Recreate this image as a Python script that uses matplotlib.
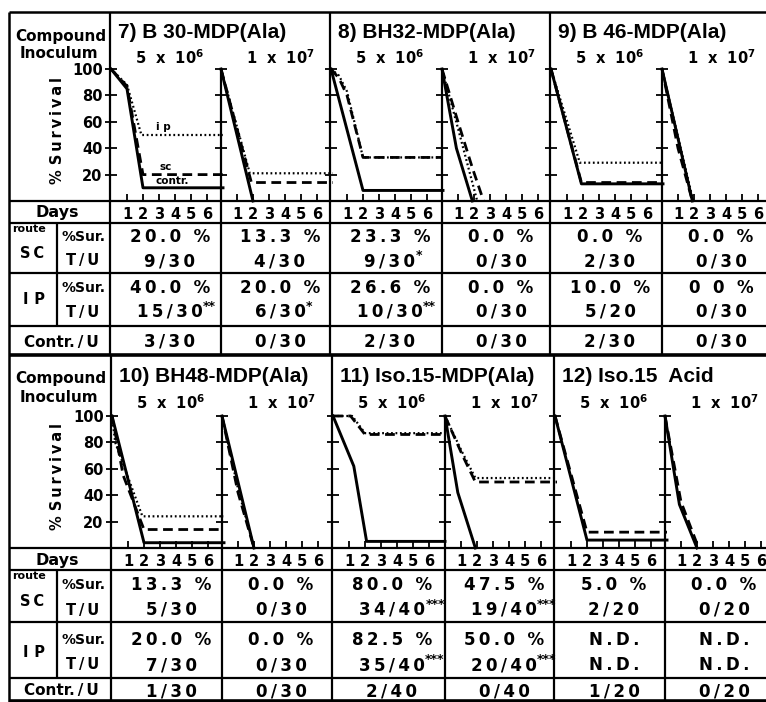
import matplotlib.pyplot as plt
from matplotlib.lines import Line2D

W, H = 766, 702

# ---- data ----
titles = ["7) B 30-MDP(Ala)", "8) BH32-MDP(Ala)", "9) B 46-MDP(Ala)",
          "10) BH48-MDP(Ala)", "11) Iso.15-MDP(Ala)", "12) Iso.15  Acid"]
inocula = [r"5  x  10$^{\mathbf{6}}$", r"1  x  10$^{\mathbf{7}}$"]
days = [1, 2, 3, 4, 5, 6]
yticks = [20, 40, 60, 80, 100]

sc_pct = ["20.0 %", "13.3 %", "23.3 %", "0.0 %", "0.0 %", "0.0 %",
          "13.3 %", "0.0 %", "80.0 %", "47.5 %", "5.0 %", "0.0 %"]
sc_tu = ["9/30", "4/30", "9/30*", "0/30", "2/30", "0/30",
         "5/30", "0/30", "34/40***", "19/40***", "2/20", "0/20"]
ip_pct = ["40.0 %", "20.0 %", "26.6 %", "0.0 %", "10.0 %", "0 0 %",
          "20.0 %", "0.0 %", "82.5 %", "50.0 %", "N.D.", "N.D."]
ip_tu = ["15/30**", "6/30*", "10/30**", "0/30", "5/20", "0/30",
         "7/30", "0/30", "35/40***", "20/40***", "N.D.", "N.D."]
contr_u = ["3/30", "0/30", "2/30", "0/30", "2/30", "0/30",
           "1/30", "0/30", "2/40", "0/40", "1/20", "0/20"]

# survival curves, one entry per small plot (7 low, 7 high, 8 low, ...)
contr_x = [[0, 1, 2, 7], [0, 2], [0, 2, 7], [0, 0.9, 1.9], [0, 1.9, 7], [0, 1.9],
           [0, 2, 7], [0, 2], [0, 1.3, 2.1, 7], [0, 0.8, 1.9], [0, 2, 7], [0, 0.9, 2]]
contr_y = [[100, 85, 10, 10], [100, 0], [100, 8, 8], [100, 40, 0], [100, 13, 13], [100, 0],
           [100, 4, 4], [100, 0], [100, 62, 5, 5], [100, 42, 0], [100, 6, 6], [100, 33, 0]]
sc_x = [[0, 1, 2, 7], [0, 1.9, 7], [0, 0.5, 1, 2, 7], [0, 1, 1.9, 2.6], [0, 1.9, 7], [0, 1, 1.9],
        [0, 0.7, 2, 7], [0, 1, 2], [0, 1.1, 2, 7], [0, 1.1, 1.9, 7], [0, 2, 7], [0, 1, 2.1]]
sc_y = [[100, 87, 20, 20], [100, 14, 14], [100, 93, 80, 33, 33], [100, 60, 25, 0], [100, 14, 14], [100, 40, 0],
        [100, 55, 14, 14], [100, 42, 0], [100, 100, 86, 86], [100, 70, 50, 50], [100, 12, 12], [100, 35, 0]]
ip_x = [[0, 1, 1.9, 7], [0, 1.8, 7], [0, 0.5, 1, 2, 7], [0, 1, 2.2], [0, 1.8, 7], [0, 1.95],
        [0, 0.2, 1.9, 7], [0, 1, 2], [0, 1.2, 2, 7], [0, 1.1, 1.9, 7], [], []]
ip_y = [[100, 88, 50, 50], [100, 21, 21], [100, 95, 83, 33, 33], [100, 55, 0], [100, 29, 29], [100, 0],
        [100, 80, 24, 24], [100, 45, 0], [100, 100, 87, 87], [100, 72, 53, 53], [], []]

# ---- layout (pixels) ----
sections = [
    dict(top=12, title=33, inoc=58, y100=69, y0=201,
         rows=[212, 237, 261, 288, 312, 342], hl=[201, 223, 273, 326, 355], bottom=355,
         lefts=[111, 221, 331, 442, 551, 662]),
    dict(top=355, title=377, inoc=403, y100=416, y0=548,
         rows=[560, 585, 610, 640, 665, 691], hl=[548, 570, 622, 678, 701], bottom=702,
         lefts=[112, 222, 333, 445, 555, 665]),
]

B = dict(fontweight="bold", family="DejaVu Sans")

fig = plt.figure(figsize=(W / 100, H / 100), dpi=100)
bg = fig.add_axes([0, 0, 1, 1])
bg.set_xlim(0, W)
bg.set_ylim(H, 0)
bg.axis("off")


def hline(y, x0, x1, lw=1.6):
    bg.add_line(Line2D([x0, x1], [y, y], color="black", lw=lw, solid_capstyle="butt"))


def vline(x, y0, y1, lw=1.6):
    bg.add_line(Line2D([x, x], [y0, y1], color="black", lw=lw, solid_capstyle="butt"))


def txt(x, y, s, size=11, ha="center", **kw):
    opts = dict(B)
    opts.update(kw)
    return bg.text(x, y, s, fontsize=size, ha=ha, va="center", **opts)


def cell(x, y, s):
    core = s.rstrip("*")
    stars = s[len(core):]
    t = txt(x, y, "\u2009".join(core), size=12)
    if stars:
        bg.annotate(stars, xy=(1, 1), xycoords=t, xytext=(0.2, 2.5),
                    textcoords="offset points", ha="left", va="top",
                    fontsize=9, fontweight="bold")


# outer frame
hline(12, 9, 766, lw=1.8)
vline(9, 12, 702, lw=1.8)

for si, sec in enumerate(sections):
    L = sec["lefts"]
    edges = L + [766]
    # table lines
    for k, y in enumerate(sec["hl"]):
        hline(y, 9, 766, lw=2.6 if k == len(sec["hl"]) - 1 else 1.6)
    vline(57, sec["hl"][1], sec["hl"][3])
    for j in range(6):
        if j % 2 == 0:
            vline(L[j] - 1, sec["top"], sec["bottom"])
        else:
            vline(L[j], sec["y100"], sec["bottom"])

    # left column labels
    txt(61, sec["top"] + 24, "Compound", size=11)
    txt(59, sec["inoc"] - 5, "Inoculum", size=11)
    txt(57, (sec["y100"] + sec["y0"]) / 2 - 5, "% S\u2009u\u2009r\u2009v\u2009i\u2009v\u2009a\u2009l",
        size=10.5, rotation=90)
    r = sec["rows"]
    txt(57, r[0], "Days", size=11.5)
    txt(12, sec["hl"][1] + 6, "route", size=8, ha="left")
    txt(32, (r[1] + r[2]) / 2 + 4, "S\u2009C", size=10.5)
    txt(34, (r[3] + r[4]) / 2, "I\u2009\u2009P", size=10.5)
    txt(83, r[1], "%Sur.", size=10)
    txt(83, r[2], "T\u2009/\u2009U", size=10.5)
    txt(83, r[3], "%Sur.", size=10)
    txt(83, r[4], "T\u2009/\u2009U", size=10.5)
    txt(61, r[5], "Contr.\u2009/\u2009U", size=11)

    for p in range(3):
        pi = si * 3 + p
        txt(L[2 * p] + 7, sec["title"], titles[pi], size=15, ha="left",
            family="Liberation Sans")
        for q in range(2):
            k = pi * 2 + q
            left, right = edges[2 * p + q], edges[2 * p + q + 1]
            cx = left + 59
            txt(cx, sec["inoc"], inocula[q], size=10.5)
            cell(cx, r[1], sc_pct[k])
            cell(cx, r[2], sc_tu[k])
            cell(cx, r[3], ip_pct[k])
            cell(cx, r[4], ip_tu[k])
            cell(cx, r[5], contr_u[k])

            ax = fig.add_axes([left / W, 1 - sec["y0"] / H, (right - left) / W,
                               (sec["y0"] - sec["y100"]) / H])
            ax.set_xlim(0, (right - left) / 16)
            ax.set_ylim(0, 100)
            ax.patch.set_visible(False)
            for s in ax.spines.values():
                s.set_visible(False)
            ax.plot(contr_x[k], contr_y[k], color="black", lw=2.1, clip_on=False)
            ax.plot(sc_x[k], sc_y[k], color="black", lw=2.0, ls=(0, (3.5, 2)), clip_on=False)
            if ip_x[k]:
                ax.plot(ip_x[k], ip_y[k], color="black", lw=1.6, ls=(0, (0.8, 1.2)),
                        clip_on=False)
            ax.set_xticks(days)
            ax.set_xticklabels([str(d) for d in days], fontsize=10.5, fontweight="bold")
            ax.tick_params(axis="x", direction="in", length=5, width=1.3, pad=4)
            ax.set_yticks(yticks)
            ax.tick_params(axis="y", direction="inout", length=8, width=1.3, pad=2)
            if left == L[0]:
                ax.set_yticklabels([str(v) for v in yticks], fontsize=10.5,
                                   fontweight="bold")
            else:
                ax.set_yticklabels([])
            if k == 0:
                ax.text(3.25, 56, "i p", fontsize=7.5, fontweight="bold", ha="center",
                        va="center")
                ax.text(3.4, 26, "sc", fontsize=7.5, fontweight="bold", ha="center",
                        va="center")
                ax.text(3.8, 15, "contr.", fontsize=7.5, fontweight="bold", ha="center",
                        va="center")

fig.savefig("out.png", dpi=100)
